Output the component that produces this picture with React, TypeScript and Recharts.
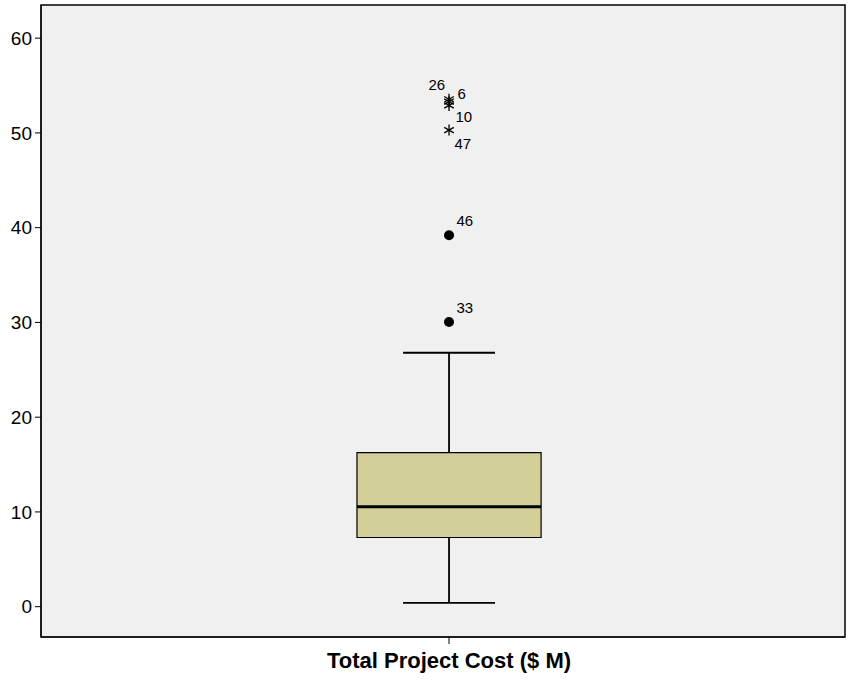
import {
  ComposedChart,
  XAxis,
  YAxis,
  CartesianGrid,
  ReferenceArea,
  ReferenceLine,
  Scatter,
  LabelList,
} from "recharts"

// one category
const categories = ["Total Project Cost ($ M)"]

// box statistics
const whiskerLow = [0.4]
const q1 = [7.3]
const median = [10.55]
const q3 = [16.25]
const whiskerHigh = [26.8]

// outliers (circles) and extremes (stars), case numbers as labels
const outlierCases = ["33", "46"]
const outlierValues = [30.05, 39.2]
const extremeCases = ["47", "10", "6", "26"]
const extremeValues = [50.3, 52.9, 53.3, 53.55]

const yTicks = [0, 10, 20, 30, 40, 50, 60]
const yDomain: [number, number] = [-3.2, 63.5]

const xCenter = 50.75
const boxHalf = 11.45
const capHalf = 5.72

const font = "'Liberation Sans', Arial, sans-serif"

const outliers = outlierCases.map((c, i) => ({ x: xCenter, y: outlierValues[i], label: c }))
const extremes = extremeCases.map((c, i) => ({ x: xCenter, y: extremeValues[i], label: c }))

const labelOffset: Record<string, [number, number]> = {
  "33": [12, -4],
  "46": [12, -5],
  "47": [10, 23],
  "10": [11, 21],
  "6": [13, 2],
  "26": [-16, -5],
}

const Circle = (props: any) => <circle cx={props.cx} cy={props.cy} r={5} fill="#000" />

const Star = (props: any) => {
  const { cx, cy } = props
  const r = 5.5
  const lines = [0, 60, 120].map((a) => {
    const rad = ((a + 90) * Math.PI) / 180
    return (
      <line
        key={a}
        x1={cx - r * Math.cos(rad)}
        y1={cy - r * Math.sin(rad)}
        x2={cx + r * Math.cos(rad)}
        y2={cy + r * Math.sin(rad)}
        stroke="#000"
        strokeWidth={1.3}
      />
    )
  })
  return <g>{lines}</g>
}

const CaseLabel = (props: any) => {
  const { x, y, value } = props
  const [dx, dy] = labelOffset[value] ?? [6, -6]
  return (
    <text x={x + dx} y={y + dy} fontSize={15} fontFamily={font} fill="#000">
      {value}
    </text>
  )
}

export default function App() {
  return (
    <div style={{ position: "absolute", left: 0, top: 0 }}>
      <ComposedChart width={849} height={681} margin={{ top: 5, right: 4, bottom: 0, left: 0 }}>
        <CartesianGrid horizontal={false} vertical={false} fill="#f0f0f0" />
        <XAxis
          type="number"
          dataKey="x"
          domain={[0, 100]}
          ticks={[xCenter]}
          tickFormatter={() => categories[0]}
          height={44}
          tickSize={7}
          stroke="#000"
          tick={{ fontSize: 22, fontWeight: "bold", fill: "#000", fontFamily: font }}
          tickMargin={8}
        />
        <YAxis
          type="number"
          domain={yDomain}
          ticks={yTicks}
          allowDataOverflow
          width={41}
          tickSize={6}
          stroke="#000"
          tick={{ fontSize: 19, fill: "#000", fontFamily: font }}
          tickMargin={3}
        />
        <ReferenceArea
          x1={0}
          x2={100}
          y1={yDomain[0]}
          y2={yDomain[1]}
          fill="none"
          stroke="#000"
          strokeWidth={1.5}
          fillOpacity={0}
        />
        {/* whiskers */}
        <ReferenceLine segment={[{ x: xCenter, y: whiskerLow[0] }, { x: xCenter, y: q1[0] }]} stroke="#000" strokeWidth={1.8} />
        <ReferenceLine segment={[{ x: xCenter, y: q3[0] }, { x: xCenter, y: whiskerHigh[0] }]} stroke="#000" strokeWidth={1.8} />
        <ReferenceLine segment={[{ x: xCenter - capHalf, y: whiskerLow[0] }, { x: xCenter + capHalf, y: whiskerLow[0] }]} stroke="#000" strokeWidth={1.8} />
        <ReferenceLine segment={[{ x: xCenter - capHalf, y: whiskerHigh[0] }, { x: xCenter + capHalf, y: whiskerHigh[0] }]} stroke="#000" strokeWidth={1.8} />
        {/* box */}
        <ReferenceArea
          x1={xCenter - boxHalf}
          x2={xCenter + boxHalf}
          y1={q1[0]}
          y2={q3[0]}
          fill="#d3cf98"
          fillOpacity={1}
          stroke="#000"
          strokeWidth={1.2}
        />
        <ReferenceLine segment={[{ x: xCenter - boxHalf, y: median[0] }, { x: xCenter + boxHalf, y: median[0] }]} stroke="#000" strokeWidth={3} />
        <Scatter data={outliers} dataKey="y" shape={Circle} isAnimationActive={false}>
          <LabelList dataKey="label" content={CaseLabel} />
        </Scatter>
        <Scatter data={extremes} dataKey="y" shape={Star} isAnimationActive={false}>
          <LabelList dataKey="label" content={CaseLabel} />
        </Scatter>
      </ComposedChart>
    </div>
  )
}
